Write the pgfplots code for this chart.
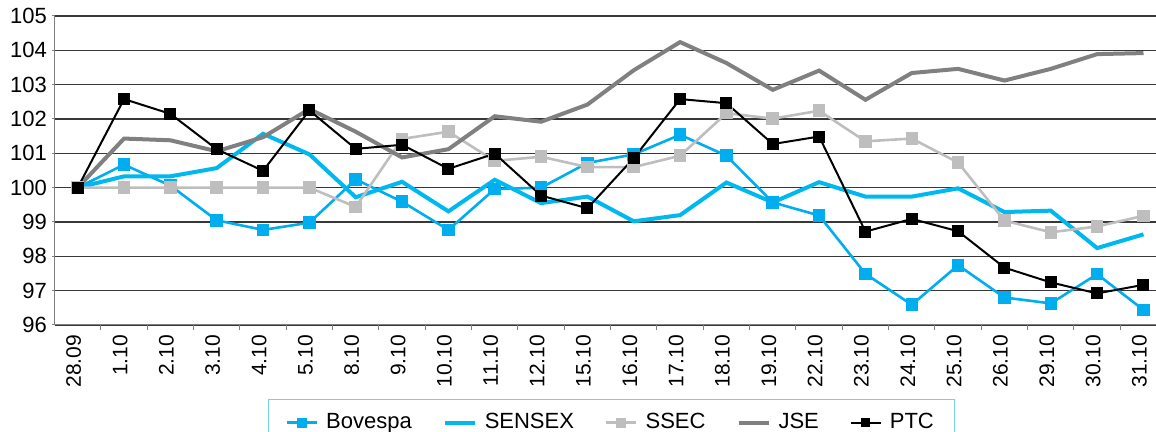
\documentclass[border=0pt]{standalone}
\usepackage{fontspec}
\setmainfont{Liberation Sans}
\usepackage{pgfplots}
\pgfplotsset{compat=1.18}
\definecolor{bov}{RGB}{0,174,239}
\definecolor{sen}{RGB}{0,184,240}
\definecolor{ssec}{RGB}{190,190,190}
\definecolor{jse}{RGB}{128,128,128}
\definecolor{legb}{RGB}{120,205,240}
\pgfplotstableread{
i bov sen ssec jse ptc
0 100 100 100 100 100
1 100.67 100.33 100 101.43 102.58
2 100.06 100.33 100 101.38 102.15
3 99.05 100.57 100 101.06 101.12
4 98.77 101.57 100 101.47 100.49
5 98.98 100.97 100 102.29 102.25
6 100.24 99.72 99.44 101.63 101.13
7 99.59 100.17 101.42 100.88 101.25
8 98.77 99.31 101.63 101.12 100.55
9 99.96 100.23 100.78 102.08 100.99
10 100.00 99.55 100.90 101.92 99.77
11 100.72 99.74 100.60 102.42 99.40
12 100.97 99.02 100.60 103.42 100.86
13 101.54 99.20 100.93 104.24 102.58
14 100.93 100.15 102.17 103.63 102.46
15 99.57 99.57 102.01 102.85 101.27
16 99.19 100.16 102.24 103.41 101.49
17 97.49 99.74 101.35 102.56 98.72
18 96.59 99.74 101.43 103.34 99.09
19 97.74 99.98 100.73 103.46 98.73
20 96.80 99.29 99.04 103.12 97.67
21 96.63 99.33 98.70 103.46 97.24
22 97.48 98.24 98.87 103.89 96.92
23 96.44 98.64 99.18 103.92 97.17
}\data
\begin{document}
\begin{tikzpicture}
\useasboundingbox (0,0) rectangle (578pt,216pt);
\clip (0,0) rectangle (578pt,216pt);
\begin{axis}[
  at={(27.5pt,53.5pt)}, anchor=south west,
  scale only axis, width=550.5pt, height=154.5pt,
  xmin=-0.49, xmax=23.27, ymin=96, ymax=105,
  axis lines=left, axis line style={draw=jse, line width=0.5pt, -},
  ytick={96,...,105},
  ymajorgrids, grid style={draw=black!78, line width=0.55pt},
  xtick={0,...,23},
  xticklabels={28.09,1.10,2.10,3.10,4.10,5.10,8.10,9.10,10.10,11.10,12.10,15.10,16.10,17.10,18.10,19.10,22.10,23.10,24.10,25.10,26.10,29.10,30.10,31.10},
  minor xtick={-0.5,0.5,...,22.5},
  tick align=outside, major x tick style={draw=none},
  major tick length=1.5pt, minor tick length=2.5pt,
  tick style={draw=jse, line width=0.5pt},
  /pgf/number format/assume math mode=true,
  yticklabel style={font=\fontsize{11}{13}\selectfont, xshift=1pt},
  xticklabel style={font=\fontsize{10.5}{12}\selectfont, rotate=90, anchor=east, xshift=0pt},
  x tick label style={yshift=2pt},
  legend columns=5,
  legend style={at={(0.1935,-0.2395)}, anchor=north west, draw=legb, line width=0.5pt,
    font=\fontsize{11}{13}\selectfont, inner xsep=8.5pt, inner ysep=5pt,
    /tikz/every even column/.append style={column sep=13.5pt}},
  legend image code/.code={\draw[mark repeat=2,mark phase=2,#1,mark size=1.8pt] plot coordinates {(0pt,0pt) (7.5pt,0pt) (15pt,0pt)};\path (17pt,0pt);},
]
\addplot[color=bov, line width=1.3pt, mark=square*, mark size=2.5pt, mark options={solid}] table[x=i,y=bov] {\data};
\addlegendentry{Bovespa}
\addplot[color=sen, line width=2pt, no marks] table[x=i,y=sen] {\data};
\addlegendentry{SENSEX}
\addplot[color=ssec, line width=1.3pt, mark=square*, mark size=2.5pt] table[x=i,y=ssec] {\data};
\addlegendentry{SSEC}
\addplot[color=jse, line width=2pt, no marks] table[x=i,y=jse] {\data};
\addlegendentry{JSE}
\addplot[color=black, line width=1pt, mark=square*, mark size=2.5pt] table[x=i,y=ptc] {\data};
\addlegendentry{PTC}
\end{axis}
\end{tikzpicture}
\end{document}
